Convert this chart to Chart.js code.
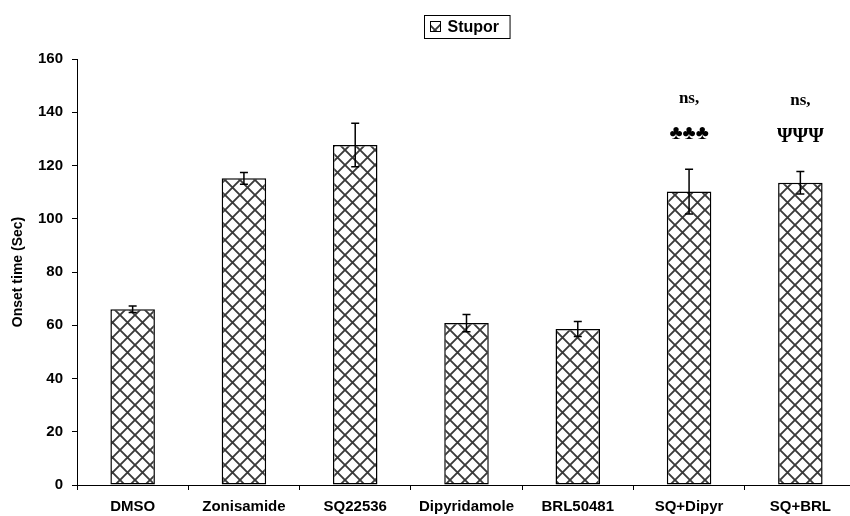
<!DOCTYPE html>
<html>
<head>
<meta charset="utf-8">
<script src="https://cdn.jsdelivr.net/npm/chart.js@4"></script>
<style>
  html, body { margin: 0; padding: 0; background: #fff; overflow: hidden; }
  #wrap { width: 850px; height: 516px; overflow: hidden; }
  #box { width: 862px; height: 516px; }
</style>
</head>
<body>
<div id="wrap"><div id="box"><canvas id="myChart"></canvas></div></div>
<script>
const categories = ["DMSO", "Zonisamide", "SQ22536", "Dipyridamole", "BRL50481", "SQ+Dipyr", "SQ+BRL"];
const onsetValues = [66, 115.2, 127.7, 60.8, 58.6, 110.2, 113.5];
const onsetErrors = [1.2, 2.2, 8.2, 3.2, 2.8, 8.4, 4.2];
const noteTop = ["", "", "", "", "", "ns,", "ns,"];
const noteSymbols = ["", "", "", "", "", "\u2663\u2663\u2663", "\u03A8\u03A8\u03A8"];
const yTicks = [0, 20, 40, 60, 80, 100, 120, 140, 160];

// cross hatch fill like the excel pattern
function makeHatch() {
  const size = 15;
  const c = document.createElement('canvas');
  c.width = size; c.height = size;
  const ctx = c.getContext('2d');
  ctx.fillStyle = '#fff';
  ctx.fillRect(0, 0, size, size);
  ctx.strokeStyle = '#3a3a3a';
  ctx.lineWidth = 1.9;
  ctx.beginPath();
  ctx.moveTo(0, 0); ctx.lineTo(size, size);
  ctx.moveTo(size, 0); ctx.lineTo(0, size);
  ctx.stroke();
  return c;
}
const hatchCanvas = makeHatch();
const hatch = document.getElementById('myChart').getContext('2d').createPattern(hatchCanvas, 'repeat');

const extras = {
  id: 'extras',
  afterDatasetsDraw(chart) {
    const ctx = chart.ctx;
    const y = chart.scales.y;
    const meta = chart.getDatasetMeta(0);
    ctx.save();
    ctx.strokeStyle = '#000';
    ctx.lineWidth = 1.5;
    meta.data.forEach((bar, i) => {
      const top = y.getPixelForValue(onsetValues[i] + onsetErrors[i]);
      const bot = y.getPixelForValue(onsetValues[i] - onsetErrors[i]);
      ctx.beginPath();
      ctx.moveTo(bar.x, top); ctx.lineTo(bar.x, bot);
      ctx.moveTo(bar.x - 4, top); ctx.lineTo(bar.x + 4, top);
      ctx.moveTo(bar.x - 4, bot); ctx.lineTo(bar.x + 4, bot);
      ctx.stroke();
      if (noteTop[i]) {
        ctx.fillStyle = '#000';
        ctx.textAlign = 'center';
        ctx.textBaseline = 'middle';
        ctx.font = 'bold 17px "Liberation Serif"';
        ctx.fillText(noteTop[i], bar.x, top - 71);
        ctx.font = 'bold 20px "Liberation Serif"';
        ctx.fillText(noteSymbols[i], bar.x, top - 35);
      }
    });
    ctx.restore();
  },
  afterDraw(chart) {
    // boxed legend above the plot
    const ctx = chart.ctx;
    const area = chart.chartArea;
    const label = chart.data.datasets[0].label;
    ctx.save();
    ctx.font = 'bold 16px "Liberation Sans"';
    const tw = ctx.measureText(label).width;
    const w = tw + 34;
    const left = Math.round((area.left + area.right) / 2 - w / 2) + 0.5;
    ctx.strokeStyle = '#000';
    ctx.lineWidth = 1;
    ctx.strokeRect(left, 15.5, w, 23);
    ctx.fillStyle = hatch;
    ctx.fillRect(left + 6, 22, 10, 10);
    ctx.strokeRect(left + 6, 21.5, 10, 10);
    ctx.fillStyle = '#000';
    ctx.textBaseline = 'middle';
    ctx.textAlign = 'left';
    ctx.fillText(label, left + 23, 27.5);
    ctx.restore();
  }
};

new Chart("myChart", {
  type: "bar",
  data: {
    labels: categories,
    datasets: [{
      label: "Stupor",
      data: onsetValues,
      backgroundColor: hatch,
      borderColor: "#000",
      borderWidth: 1.5,
      borderSkipped: false,
      barPercentage: 0.4,
      categoryPercentage: 1
    }]
  },
  options: {
    responsive: true,
    maintainAspectRatio: false,
    animation: false,
    layout: { padding: { top: 59, right: 6, left: 0, bottom: 0 } },
    plugins: {
      legend: { display: false },
      tooltip: { enabled: false }
    },
    scales: {
      x: {
        grid: { display: true, drawOnChartArea: false, offset: true, tickLength: 5, color: '#000' },
        border: { display: true, color: '#000', width: 1 },
        ticks: { color: '#000', font: { family: 'Liberation Sans', weight: 'bold', size: 15 }, padding: 8, maxRotation: 0, autoSkip: false },
        afterFit(scale) { scale.height = 31; }
      },
      y: {
        min: 0,
        max: 160,
        afterBuildTicks(scale) { scale.ticks = yTicks.map(v => ({ value: v })); },
        grid: { display: true, drawOnChartArea: false, tickLength: 5, color: '#000' },
        border: { display: true, color: '#000', width: 1 },
        ticks: { color: '#000', font: { family: 'Liberation Sans', weight: 'bold', size: 15 }, padding: 9 },
        title: {
          display: true,
          text: "Onset time (Sec)",
          color: '#000',
          font: { family: 'Liberation Sans', weight: 'bold', size: 14 },
          padding: { top: 10, bottom: 0 }
        },
        afterFit(scale) { scale.width = 77; }
      }
    }
  },
  plugins: [extras]
});
</script>
</body>
</html>
